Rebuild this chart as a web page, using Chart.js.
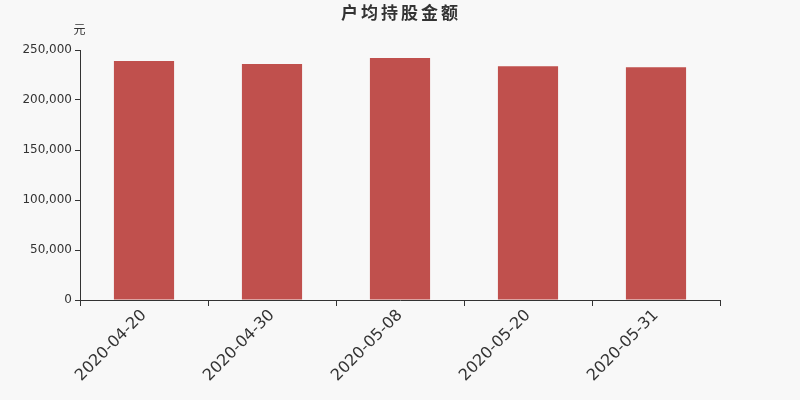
<!DOCTYPE html>
<html>
<head>
<meta charset="utf-8">
<script src="https://cdn.jsdelivr.net/npm/chart.js@4/dist/chart.umd.min.js"></script>
<style>
  html, body { margin: 0; padding: 0; background: #f8f8f8; }
  #wrap { width: 800px; height: 400px; }
</style>
</head>
<body>
<div id="wrap"><canvas id="chart"></canvas></div>
<script>
var dates = ["2020-04-20", "2020-04-30", "2020-05-08", "2020-05-20", "2020-05-31"];
var amounts = [239000, 236000, 242000, 233700, 232700];
var yTicks = [0, 50000, 100000, 150000, 200000, 250000];

var cjkFont = '"Noto Sans CJK SC", sans-serif';
var tickFont = '"DejaVu Sans", sans-serif';

var textPlugin = {
   id: 'texts',
   afterDraw: function(chart) {
      var ctx = chart.ctx;
      ctx.save();
      ctx.fillStyle = '#333';
      ctx.textAlign = 'center';
      ctx.textBaseline = 'middle';
      ctx.font = 'bold 17px ' + cjkFont;
      ctx.letterSpacing = '3px';
      ctx.fillText('户均持股金额', 401, 13);
      ctx.letterSpacing = '0px';
      ctx.font = '12px ' + cjkFont;
      ctx.fillText('元', 79.5, 29);
      ctx.restore();
   }
};

var ctx = document.getElementById("chart").getContext("2d");
var chart = new Chart(ctx, {
   type: 'bar',
   data: {
      labels: dates,
      datasets: [{
         data: amounts,
         backgroundColor: '#c0504d',
         borderWidth: 0,
         barPercentage: 0.47,
         categoryPercentage: 1
      }]
   },
   options: {
      responsive: true,
      maintainAspectRatio: false,
      animation: false,
      layout: { padding: { top: 50, right: 80, bottom: 0, left: 0 } },
      plugins: {
         legend: { display: false },
         tooltip: { enabled: false }
      },
      scales: {
         x: {
            offset: true,
            grid: { offset: true, drawOnChartArea: false, tickLength: 6, color: '#333' },
            border: { display: true, color: '#333' },
            ticks: {
               color: '#333',
               font: { size: 16, family: tickFont },
               maxRotation: 45,
               minRotation: 45,
               padding: 0
            },
            afterFit: function(scale) { scale.height = 100; }
         },
         y: {
            min: 0,
            max: 250000,
            afterBuildTicks: function(scale) {
               scale.ticks = yTicks.map(function(v) { return { value: v }; });
            },
            grid: { drawOnChartArea: false, tickLength: 5, color: '#333' },
            border: { display: true, color: '#333' },
            ticks: {
               color: '#333',
               font: { size: 12, family: tickFont },
               padding: 3,
               callback: function(v) { return v.toLocaleString('en-US'); }
            },
            afterFit: function(scale) { scale.width = 80; }
         }
      }
   },
   plugins: [textPlugin]
});
</script>
</body>
</html>
